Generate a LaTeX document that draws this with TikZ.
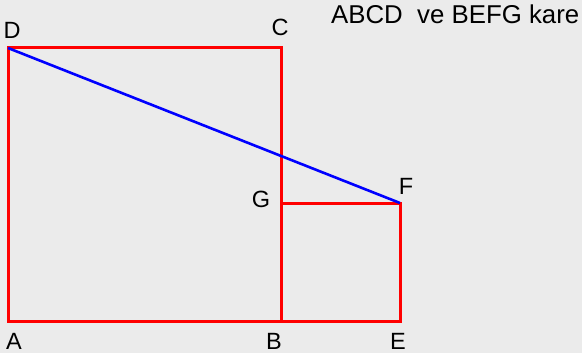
\documentclass[tikz,border=0pt]{standalone}
\usepackage{fontspec}
\setmainfont{Liberation Sans}
\definecolor{bgray}{HTML}{EBEBEB}
\begin{document}
\begin{tikzpicture}[x=1pt, y=-1pt, line join=miter, font=\fontsize{23.5}{26}\selectfont]
	\tikzset{
		kenar/.style={draw=red, line width=3pt},
		kosegen/.style={draw=blue, line width=2.6pt},
		harf/.style={inner sep=0pt, text=black}
	}
	% arka plan
	\fill[bgray] (0,0) rectangle (582,353);
	\useasboundingbox (0,0) rectangle (582,353);
	% koseler
	\coordinate (A) at (8,321);
	\coordinate (B) at (281,321);
	\coordinate (C) at (281,48);
	\coordinate (D) at (8,48);
	\coordinate (E) at (400,321);
	\coordinate (F) at (400,203);
	\coordinate (G) at (281,203);
	% kareler
	\draw[kenar] (A) -- (B) -- (C) -- (D) -- cycle;
	\draw[kenar] (B) -- (E) -- (F) -- (G) -- cycle;
	\draw[kosegen] (D) -- (F);
	% etiketler
	\node[harf] (lA) at (14,341) {A};
	\node[harf] (lB) at (274,341) {B};
	\node[harf] (lC) at (280,27) {C};
	\node[harf] (lD) at (12,30) {D};
	\node[harf] (lE) at (398,341) {E};
	\node[harf] (lF) at (406,186) {F};
	\node[harf] (lG) at (261,199) {G};
	\node[harf, anchor=west, font=\fontsize{25.8}{28}\selectfont] (baslik) at (331,14) {ABCD\ \ ve BEFG kare};
\end{tikzpicture}
\end{document}
